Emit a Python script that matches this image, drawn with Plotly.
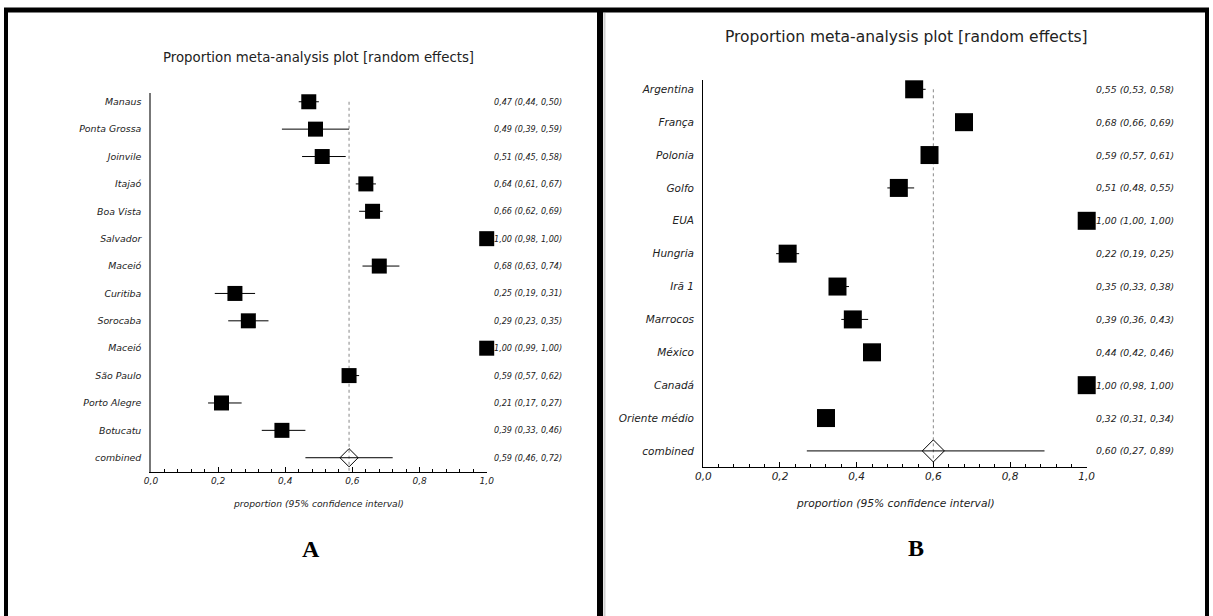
import plotly.graph_objects as go

# ---------------- data ----------------
left_labels = ["Manaus", "Ponta Grossa", "Joinvile", "Itajaó", "Boa Vista", "Salvador", "Maceió",
               "Curitiba", "Sorocaba", "Maceió", "São Paulo", "Porto Alegre", "Botucatu", "combined"]
left_est = [0.47, 0.49, 0.51, 0.64, 0.66, 1.00, 0.68, 0.25, 0.29, 1.00, 0.59, 0.21, 0.39, 0.59]
left_lo = [0.44, 0.39, 0.45, 0.61, 0.62, 0.98, 0.63, 0.19, 0.23, 0.99, 0.57, 0.17, 0.33, 0.46]
left_hi = [0.50, 0.59, 0.58, 0.67, 0.69, 1.00, 0.74, 0.31, 0.35, 1.00, 0.62, 0.27, 0.46, 0.72]

right_labels = ["Argentina", "França", "Polonia", "Golfo", "EUA", "Hungria", "Irã 1", "Marrocos",
                "México", "Canadá", "Oriente médio", "combined"]
right_est = [0.55, 0.68, 0.59, 0.51, 1.00, 0.22, 0.35, 0.39, 0.44, 1.00, 0.32, 0.60]
right_lo = [0.53, 0.66, 0.57, 0.48, 1.00, 0.19, 0.33, 0.36, 0.42, 0.98, 0.31, 0.27]
right_hi = [0.58, 0.69, 0.61, 0.55, 1.00, 0.25, 0.38, 0.43, 0.46, 1.00, 0.34, 0.89]

x_ticks = [0.0, 0.2, 0.4, 0.6, 0.8, 1.0]
title_text = "Proportion meta-analysis plot [random effects]"
x_title = "proportion (95% confidence interval)"
panel_letters = ["A", "B"]

W, H = 1213, 616
FONT = "DejaVu Sans"


def px(x):
    return x / W


def py(y):
    return 1 - y / H


fig = go.Figure()
annotations = []
shapes = []


def panel(labels, est, lo, hi, xa, ya, sq, dia, lab_fs, txt_fs, tick_fs, txt_x,
          ylinecolor, ylinewidth, top_pad, bot_pad):
    n = len(labels)
    rows = list(range(1, n + 1))
    xs = "x" if xa == 1 else "x%d" % xa
    ys = "y" if ya == 1 else "y%d" % ya
    # studies
    fig.add_trace(go.Scatter(
        x=est[:-1], y=rows[:-1], mode="markers", xaxis=xs, yaxis=ys,
        marker=dict(symbol="square", size=sq, color="black", line=dict(width=0)),
        error_x=dict(type="data", symmetric=False,
                     array=[h - e for h, e in zip(hi[:-1], est[:-1])],
                     arrayminus=[e - l for e, l in zip(est[:-1], lo[:-1])],
                     color="black", thickness=1, width=0),
        cliponaxis=False, showlegend=False, hoverinfo="skip"))
    # combined
    fig.add_trace(go.Scatter(
        x=[est[-1]], y=[rows[-1]], mode="markers", xaxis=xs, yaxis=ys,
        marker=dict(symbol="diamond-open", size=dia, color="black", line=dict(width=1)),
        error_x=dict(type="data", symmetric=False, array=[hi[-1] - est[-1]],
                     arrayminus=[est[-1] - lo[-1]], color="black", thickness=1, width=0),
        cliponaxis=False, showlegend=False, hoverinfo="skip"))
    # pooled reference line
    shapes.append(dict(type="line", xref=xs, yref=ys, x0=est[-1], x1=est[-1],
                       y0=rows[0], y1=n + bot_pad, layer="below",
                       line=dict(color="#888888", width=1, dash="dot")))
    # right-hand estimate texts
    for r, e, l, h in zip(rows, est, lo, hi):
        s = f"{e:.2f} ({l:.2f}, {h:.2f})".replace(".", ",")
        annotations.append(dict(text=s, xref=xs + " domain", x=txt_x, xanchor="left",
                                yref=ys, y=r, yanchor="middle", showarrow=False,
                                font=dict(family=FONT, size=txt_fs, color="#222222", style="italic")))
    axis_x = dict(range=[0, 1], showline=True, linecolor="black", linewidth=1,
                  showgrid=False, zeroline=False, tickvals=x_ticks, tickformat=".1f",
                  ticks="inside", ticklen=5, tickcolor="black", tickwidth=1,
                  minor=dict(dtick=0.04, ticks="inside", ticklen=3, tickcolor="black", showgrid=False),
                  tickfont=dict(family=FONT, size=tick_fs, color="#222222", style="italic"),
                  automargin=False, fixedrange=True)
    axis_y = dict(range=[n + bot_pad, top_pad], showline=True, linecolor=ylinecolor,
                  linewidth=ylinewidth, showgrid=False, zeroline=False,
                  tickvals=rows, ticktext=labels, ticks="",
                  tickfont=dict(family=FONT, size=lab_fs, color="#222222", style="italic"),
                  ticklabelstandoff=6, automargin=False, fixedrange=True)
    return axis_x, axis_y


lx, ly = panel(left_labels, left_est, left_lo, left_hi, 1, 1, 15, 14, 9.4, 8.1, 9, 1.016,
               "#777777", 1.6, 0.68, 0.51)
rx, ry = panel(right_labels, right_est, right_lo, right_hi, 2, 2, 18, 17, 10.5, 9.3, 10.5, 1.018,
               "black", 1.3, 0.717, 0.48)

lx.update(domain=[px(151), px(486.7)], anchor="y")
ly.update(domain=[py(471.7), py(93)], anchor="x")
rx.update(domain=[px(703.3), px(1086.7)], anchor="y2")
ry.update(domain=[py(466.7), py(80)], anchor="x2")

# titles, axis titles, panel letters
annotations += [
    dict(text=title_text, xref="paper", yref="paper", x=px(318.5), y=py(58), showarrow=False,
         xanchor="center", yanchor="middle", font=dict(family=FONT, size=13.3, color="#222222")),
    dict(text=title_text, xref="paper", yref="paper", x=px(906), y=py(37), showarrow=False,
         xanchor="center", yanchor="middle", font=dict(family=FONT, size=15.5, color="#222222")),
    dict(text=x_title, xref="x domain", x=0.5, yref="paper", y=py(503), showarrow=False,
         xanchor="center", yanchor="middle",
         font=dict(family=FONT, size=9.2, color="#222222", style="italic")),
    dict(text=x_title, xref="x2 domain", x=0.5, yref="paper", y=py(503), showarrow=False,
         xanchor="center", yanchor="middle",
         font=dict(family=FONT, size=10.7, color="#222222", style="italic")),
    dict(text="<b>%s</b>" % panel_letters[0], xref="paper", yref="paper", x=px(311), y=py(549),
         showarrow=False, xanchor="center", yanchor="middle",
         font=dict(family="Liberation Serif", size=24, color="black")),
    dict(text="<b>%s</b>" % panel_letters[1], xref="paper", yref="paper", x=px(916), y=py(548),
         showarrow=False, xanchor="center", yanchor="middle",
         font=dict(family="Liberation Serif", size=24, color="black")),
]

# panel frames
frame = [
    (4, 10, 1209, 10, 5),      # top
    (6, 8, 6, 620, 4),         # left
    (600, 8, 600, 620, 6),     # middle
    (1207, 8, 1207, 620, 4),   # right
]
for x0, y0, x1, y1, w in frame:
    shapes.append(dict(type="line", xref="paper", yref="paper", x0=px(x0), y0=py(y0),
                       x1=px(x1), y1=py(y1), line=dict(color="black", width=w)))
shapes.append(dict(type="line", xref="paper", yref="paper", x0=px(604.5), y0=py(13),
                   x1=px(604.5), y1=py(620), line=dict(color="#d0d0d0", width=2)))

fig.update_layout(
    width=W, height=H, margin=dict(l=0, r=0, t=0, b=0, pad=0, autoexpand=False),
    paper_bgcolor="white", plot_bgcolor="white",
    separators=",.",
    xaxis=lx, yaxis=ly, xaxis2=rx, yaxis2=ry,
    annotations=annotations, shapes=shapes, showlegend=False,
)

fig.write_html("out.html", config={"displayModeBar": False},
               post_script="document.body.style.margin='0';document.body.style.overflow='hidden';")
